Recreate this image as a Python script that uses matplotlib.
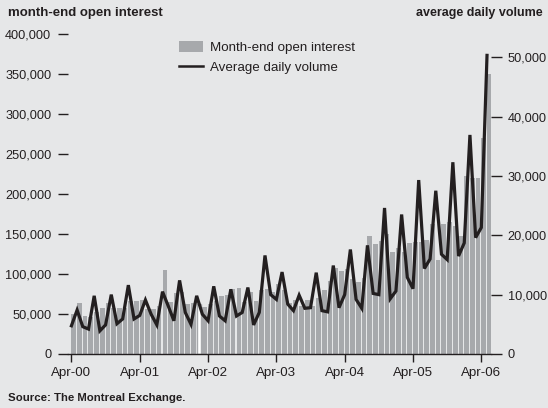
import numpy as np
import matplotlib
matplotlib.use('Agg')
import matplotlib.pyplot as plt

plt.rcParams['font.family'] = ['Liberation Sans', 'DejaVu Sans']

# month-end open interest (contracts), Apr-00 .. May-06
open_interest = [
    50000, 64000, 47000, 46000, 53000, 58000, 64000, 58000, 58000, 58000, 66000, 66000,
    68000, 56000, 56000, 60000, 105000, 65000, 76000, 78000, 62000, 64000, 62000, 59000,
    63000, 66000, 73000, 74000, 81000, 82000, 65000, 77000, 66000, 80000, 81000, 77000,
    88000, 80000, 64000, 67000, 60000, 68000, 60000, 70000, 80000, 91000, 108000, 104000,
    106000, 94000, 90000, 95000, 148000, 137000, 141000, 150000, 127000, 132000, 128000, 139000,
    140000, 140000, 143000, 163000, 118000, 163000, 165000, 160000, 147000, 222000, 220000, 220000,
    270000, 350000,
]
# average daily volume (contracts)
daily_volume = [
    4750, 7400, 4600, 4200, 9800, 3900, 4900, 10000, 5100, 5900, 11600, 5900,
    6500, 9100, 6700, 4900, 10500, 8100, 5600, 12400, 7000, 5000, 9800, 6700,
    5600, 11400, 6400, 5600, 10900, 6400, 7000, 11200, 4900, 7000, 16600, 10000,
    9200, 13800, 8400, 7300, 9900, 7700, 7800, 13700, 7300, 7100, 14900, 7800,
    10000, 17600, 9200, 7700, 18300, 10200, 10000, 24600, 9300, 10600, 23500, 12900,
    11000, 29300, 14400, 16000, 27500, 16800, 15900, 32300, 16500, 18700, 36900, 19600,
    21300, 50300,
]
tick_labels = ['Apr-00', 'Apr-01', 'Apr-02', 'Apr-03', 'Apr-04', 'Apr-05', 'Apr-06']
hollow_month = 22  # bar drawn as an outline in the source

bg = '#e6e7e8'
bar_col = '#a7a9ac'
ink = '#231f20'

fig = plt.figure(figsize=(5.48, 4.08), dpi=100, facecolor=bg)
ax = fig.add_axes([68 / 548, 1 - 354 / 408, (491 - 68) / 548, (354 - 34) / 408])
ax.set_facecolor(bg)

x = np.arange(len(open_interest))
bars = ax.bar(x, open_interest, width=0.82, align='edge', color=bar_col,
              linewidth=0, label='Month-end open interest', zorder=2)
bars[hollow_month].set_facecolor('white')
bars[hollow_month].set_edgecolor(bar_col)
bars[hollow_month].set_linewidth(1)

ax.set_xlim(-0.6, 73.7)
ax.set_ylim(0, 400000)
ax.set_yticks(np.arange(0, 400001, 50000))
ax.set_yticklabels([f'{v:,}' for v in range(0, 400001, 50000)])
ax.set_xticks(np.arange(0, 73, 12))
ax.set_xticklabels(tick_labels)

for s in ['top', 'left', 'right']:
    ax.spines[s].set_visible(False)
ax.spines['bottom'].set_color(ink)
ax.spines['bottom'].set_linewidth(1)
ax.tick_params(axis='y', length=7, width=1, color=ink, pad=5, labelsize=9.2, labelcolor=ink)
ax.tick_params(axis='x', length=6, width=1, color=ink, pad=3.5, labelsize=9.6, labelcolor=ink)

ax2 = ax.twinx()
line, = ax2.plot(x, daily_volume, color=ink, linewidth=2.3, solid_joinstyle='miter',
                 label='Average daily volume')
ax2.set_ylim(0, 53900)
ax2.set_yticks(np.arange(0, 50001, 10000))
ax2.set_yticklabels([f'{v:,}' for v in range(0, 50001, 10000)])
for s in ['top', 'left', 'right', 'bottom']:
    ax2.spines[s].set_visible(False)
ax2.tick_params(axis='y', length=8, width=1, color=ink, pad=4, labelsize=9.2, labelcolor=ink)

leg = fig.legend(handles=[bars, line], loc='upper left', bbox_to_anchor=(167 / 548, 1 - 29 / 408),
                 frameon=False, fontsize=9.6, handlelength=1.8, handleheight=0.85,
                 handletextpad=0.55, labelspacing=0.5, labelcolor=ink)
leg.get_lines()[0].set_linewidth(1.8)

fig.text(8 / 548, 1 - 13 / 408, 'month-end open interest', fontsize=9.5, fontweight='bold',
         color=ink, va='center', ha='left')
fig.text(543 / 548, 1 - 13 / 408, 'average daily volume', fontsize=9, fontweight='bold',
         color=ink, va='center', ha='right')
fig.text(8 / 548, 1 - 398 / 408, 'Source: The Montreal Exchange.', fontsize=8.2,
         fontweight='bold', color=ink, va='center', ha='left')

fig.savefig('out.png', dpi=100, facecolor=bg)
